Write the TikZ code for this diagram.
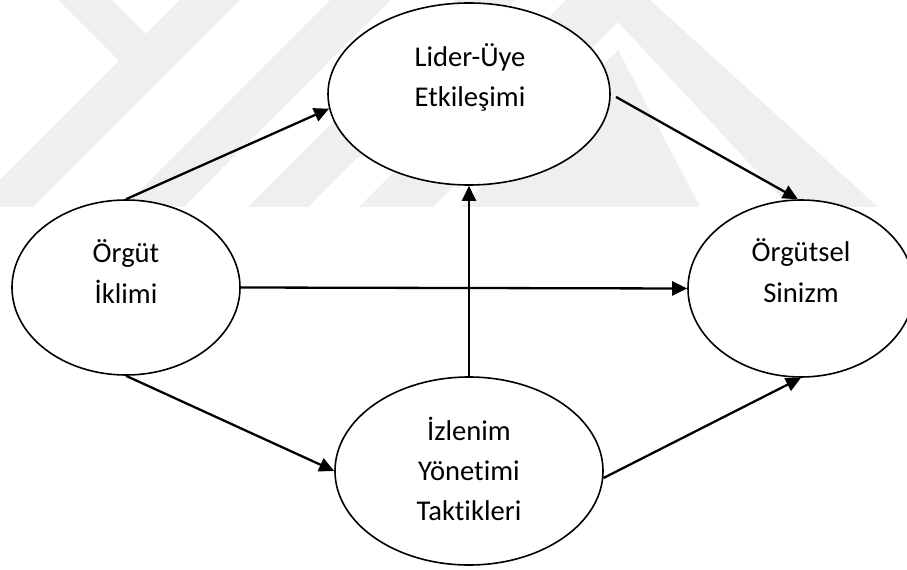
\documentclass[tikz,border=0pt]{standalone}
\usepackage{fontspec}
\setmainfont{Carlito}[Ligatures=CommonOff]
\usetikzlibrary{shapes.geometric,arrows.meta}
\definecolor{markgray}{RGB}{239,239,239}
\tikzset{
  bubble/.style={ellipse, draw=black, line width=1.6bp, fill=white, inner sep=0pt},
  linetext/.style={anchor=base, inner sep=0pt, font=\fontsize{28.6bp}{40bp}\selectfont},
  link/.style={line width=2.3bp, -{Triangle[length=15bp,width=14bp]}},
  wmark/.style={fill=markgray},
}
\begin{document}
\begin{tikzpicture}[x=1bp,y=-1bp]
\useasboundingbox (0,0) rectangle (907,570);
\clip (0,0) rectangle (907,570);
\fill[white] (0,0) rectangle (907,570);

% faint background emblem
\begin{scope}
  \clip (0,0) rectangle (907,207);
  \fill[wmark] (58,0) -- (112,0) -- (146,34) -- (180,0) -- (240,0) -- (33,207) -- (-27,207) -- (119,61) -- cycle;
  \fill[wmark] (330,0) -- (390,0) -- (183,207) -- (123,207) -- cycle;
  \fill[wmark] (455,0) -- (515,0) -- (308,207) -- (248,207) -- cycle;
  \fill[wmark] (566,0) -- (650,0) -- (878,207) -- (790,207) -- (618,22) -- (433,207) -- (359,207) -- cycle;
  \fill[wmark] (618,50) -- (700,207) -- (461,207) -- cycle;
\end{scope}

% the four constructs
\node[bubble, minimum width=282bp, minimum height=182bp] (lmx) at (469,94) {};
\node[bubble, minimum width=228bp, minimum height=175bp] (climate) at (126,287.5) {};
\node[bubble, minimum width=226bp, minimum height=177bp] (cynic) at (801,288.5) {};
\node[bubble, minimum width=268bp, minimum height=188bp] (impress) at (469,471) {};

% labels, one node per line
\node[linetext] (lmxA) at (470,67) {Lider-Üye};
\node[linetext] (lmxB) at (470,107) {Etkileşimi};
\node[linetext] (climateA) at (126,263) {Örgüt};
\node[linetext] (climateB) at (126,303) {İklimi};
\node[linetext] (cynicA) at (801,262) {Örgütsel};
\node[linetext] (cynicB) at (801,302) {Sinizm};
\node[linetext] (impressA) at (469,440) {İzlenim};
\node[linetext] (impressB) at (469,480) {Yönetimi};
\node[linetext] (impressC) at (469,520) {Taktikleri};

% paths between constructs
\draw[link] (climate.north) -- (lmx.186);
\draw[link, shorten <=6bp] (lmx.east) -- (cynic.92);
\draw[link] (climate.east) -- (cynic.west);
\draw[link] (climate.south) -- (impress.west);
\draw[link] (impress.-3) -- (cynic.south);
\draw[link] (impress.north) -- (lmx.south);
\end{tikzpicture}
\end{document}
